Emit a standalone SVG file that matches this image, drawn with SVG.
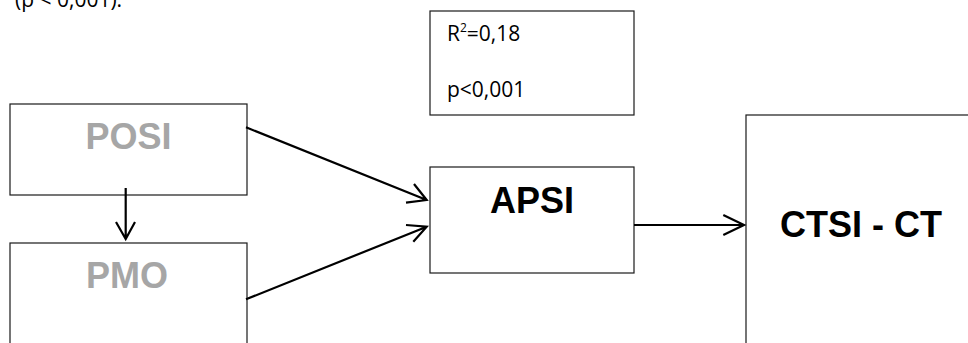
<svg xmlns="http://www.w3.org/2000/svg" width="968" height="343" viewBox="0 0 968 343">
<style>
.box{fill:#fff;stroke:#1a1a1a;stroke-width:1.2}
.lbl{font-family:"Liberation Sans",Arial,sans-serif;font-weight:bold;font-size:36px;text-anchor:middle}
.grey{fill:#a6a6a6}
.blk{fill:#000}
.note{font-family:"Open Sans","Liberation Sans",sans-serif;font-size:21px;fill:#000}
.con{fill:none;stroke:#000;stroke-width:2.2}
</style>
<rect width="968" height="343" fill="#fff"/>
<text class="note" x="15" y="7" font-size="22">(p &lt; 0,001).</text>
<g id="stats">
<rect class="box" x="430" y="11" width="204" height="104"/>
<text class="note" x="447" y="41">R<tspan font-size="12" dy="-9">2</tspan><tspan dy="9">=0,18</tspan></text>
<text class="note" x="447" y="97">p&lt;0,001</text>
</g>
<g id="posi">
<rect class="box" x="10" y="104" width="237" height="91"/>
<text class="lbl grey" x="128.5" y="149">POSI</text>
</g>
<g id="pmo">
<rect class="box" x="10" y="243" width="237" height="110"/>
<text class="lbl grey" x="127" y="288">PMO</text>
</g>
<g id="apsi">
<rect class="box" x="430" y="167" width="204" height="106"/>
<text class="lbl blk" x="532" y="213">APSI</text>
</g>
<g id="ctsi">
<rect class="box" x="746" y="115" width="240" height="240"/>
<text class="lbl blk" x="861" y="237">CTSI - CT</text>
</g>
<g id="connectors">
<path class="con" d="M125.7 188 V239 M116 222 L125.7 239 L135 222"/>
<path class="con" d="M246 127.3 L426.7 200 M406 202.7 L426.7 200 L414 184"/>
<path class="con" d="M246 299.3 L426.7 226.7 M406 225 L426.7 226.7 L413.3 241.7"/>
<path class="con" d="M634 225 H744 M723.3 215 L744 225 L723.3 235"/>
</g>
</svg>
